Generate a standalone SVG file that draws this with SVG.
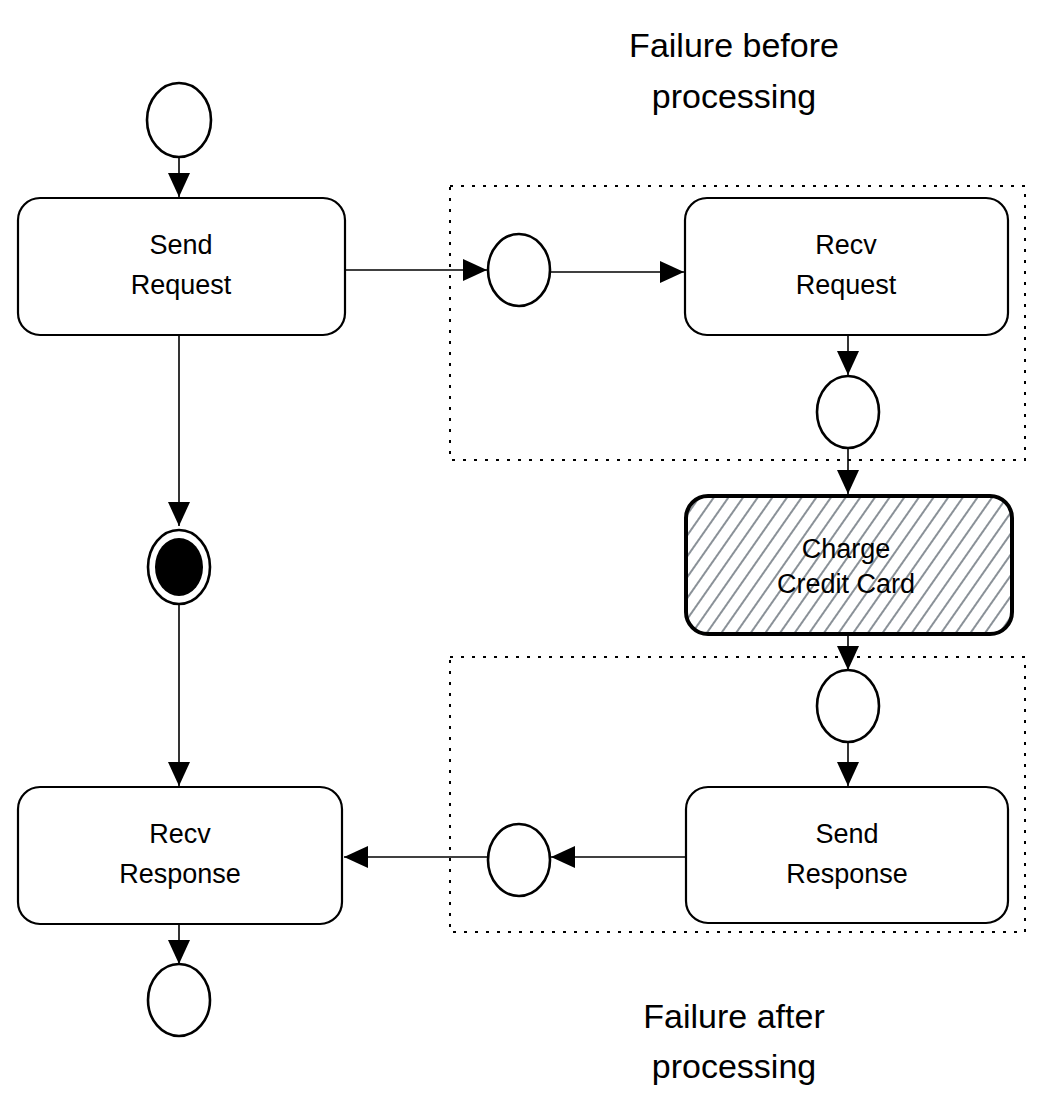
<svg xmlns="http://www.w3.org/2000/svg" width="1042" height="1109" viewBox="0 0 1042 1109">
<style>
.node{fill:#fff;stroke:#000;stroke-width:2.2}
.ev{fill:#fff;stroke:#000;stroke-width:2.6}
.lbl{font-family:"Liberation Sans",Arial,sans-serif;font-size:27px;fill:#000;text-anchor:middle}
.big{font-family:"Liberation Sans",Arial,sans-serif;font-size:34px;fill:#000;text-anchor:middle}
.edge{stroke:#000;stroke-width:1.6;fill:none;marker-end:url(#ah)}
.frame{fill:none;stroke:#000;stroke-width:2;stroke-dasharray:3 8}
</style>
<defs>
<marker id="ah" markerUnits="userSpaceOnUse" markerWidth="26" markerHeight="22" refX="24" refY="11" orient="auto">
<path d="M0,0 L24,11 L0,22 Z" fill="#000"/>
</marker>
<pattern id="hatch" patternUnits="userSpaceOnUse" width="12" height="12" patternTransform="rotate(35)">
<line x1="6" y1="0" x2="6" y2="12" stroke="#6c757d" stroke-width="1.6"/>
</pattern>
</defs>
<rect width="1042" height="1109" fill="#fff"/>

<g id="frames">
<rect id="frame-before" class="frame" x="450" y="186" width="575" height="274"/>
<rect id="frame-after" class="frame" x="450" y="657" width="575" height="275"/>
</g>

<g id="connectors">
<line class="edge" x1="179" y1="157" x2="179" y2="197"/>
<line class="edge" x1="345" y1="270" x2="487" y2="270"/>
<line class="edge" x1="551" y1="272" x2="684" y2="272"/>
<line class="edge" x1="848" y1="335" x2="848" y2="375"/>
<line class="edge" x1="848" y1="448" x2="848" y2="494"/>
<line class="edge" x1="848" y1="634" x2="848" y2="670"/>
<line class="edge" x1="848" y1="742" x2="848" y2="786"/>
<line class="edge" x1="686" y1="857" x2="551" y2="857"/>
<line class="edge" x1="488" y1="857" x2="344" y2="857"/>
<line class="edge" x1="179" y1="335" x2="179" y2="526"/>
<line class="edge" x1="179" y1="604" x2="179" y2="786"/>
<line class="edge" x1="179" y1="924" x2="179" y2="964"/>
</g>

<g id="start">
<ellipse class="ev" cx="179" cy="120" rx="32" ry="37"/>
</g>
<g id="send-request">
<rect class="node" x="18" y="198" width="327" height="137" rx="22"/>
<text class="lbl" x="181" y="254">Send</text>
<text class="lbl" x="181" y="294">Request</text>
</g>
<g id="msg-in">
<ellipse class="ev" cx="519" cy="270" rx="31" ry="36"/>
</g>
<g id="recv-request">
<rect class="node" x="685" y="198" width="323" height="137" rx="22"/>
<text class="lbl" x="846" y="254">Recv</text>
<text class="lbl" x="846" y="294">Request</text>
</g>
<g id="after-recv">
<ellipse class="ev" cx="848" cy="412" rx="31" ry="36"/>
</g>
<g id="charge-credit-card">
<rect x="686" y="496" width="326" height="138" rx="22" fill="#fff"/>
<rect x="686" y="496" width="326" height="138" rx="22" fill="url(#hatch)" stroke="#000" stroke-width="4"/>
<text class="lbl" x="846" y="558">Charge</text>
<text class="lbl" x="846" y="593">Credit Card</text>
</g>
<g id="after-charge">
<ellipse class="ev" cx="848" cy="706" rx="31" ry="36"/>
</g>
<g id="send-response">
<rect class="node" x="686" y="787" width="322" height="136" rx="22"/>
<text class="lbl" x="847" y="843">Send</text>
<text class="lbl" x="847" y="883">Response</text>
</g>
<g id="msg-out">
<ellipse class="ev" cx="519" cy="860" rx="31" ry="36"/>
</g>
<g id="recv-response">
<rect class="node" x="18" y="787" width="324" height="137" rx="22"/>
<text class="lbl" x="180" y="843">Recv</text>
<text class="lbl" x="180" y="883">Response</text>
</g>
<g id="end">
<ellipse class="ev" cx="179" cy="1000" rx="31" ry="36"/>
</g>
<g id="terminate">
<ellipse class="ev" cx="179" cy="567" rx="31" ry="37"/>
<ellipse cx="179" cy="567" rx="24" ry="29" fill="#000"/>
</g>

<g id="label-before">
<text class="big" x="734" y="57">Failure before</text>
<text class="big" x="734" y="108">processing</text>
</g>
<g id="label-after">
<text class="big" x="734" y="1028">Failure after</text>
<text class="big" x="734" y="1078">processing</text>
</g>
</svg>
